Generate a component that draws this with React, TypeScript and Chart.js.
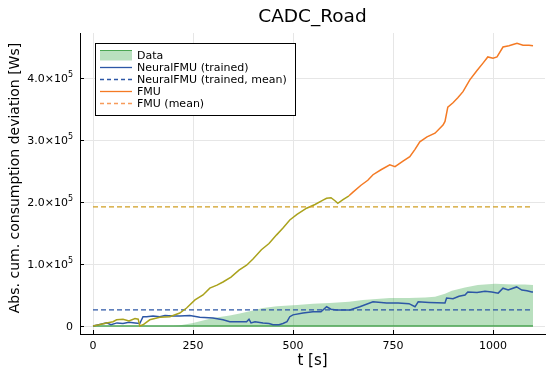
import React, { useEffect, useRef } from "react";
import { Chart, registerables } from "chart.js";

Chart.register(...registerables);

const TITLE = "CADC_Road";
const X_LABEL = "t [s]";
const Y_LABEL = "Abs. cum. consumption deviation [Ws]";
const X_TICKS = [0, 250, 500, 750, 1000];
const Y_TICKS = [0, 100000, 200000, 300000, 400000];
const Y_TICK_MANTISSA = ["0", "1.0×10", "2.0×10", "3.0×10", "4.0×10"];
const Y_TICK_EXP = ["", "5", "5", "5", "5"];
const LEGEND_LABELS = ["Data", "NeuralFMU (trained)", "NeuralFMU (trained, mean)", "FMU", "FMU (mean)"];

const T_END = 1100;

// Data ribbon upper edge
const dataT = [0, 100, 200, 215, 250, 300, 342, 367, 400, 425, 460, 510, 550, 592, 640, 675, 742, 790, 830, 855, 880, 897, 930, 962, 1005, 1050, 1080, 1100];
const dataV = [0, 0, 0, 1000, 5000, 13000, 17000, 20000, 25000, 29000, 32000, 34000, 36000, 37000, 39000, 42000, 45000, 45000, 46000, 47000, 52000, 57000, 62000, 66000, 68000, 67000, 67000, 66000];

// NeuralFMU (trained)
const neuralT = [0, 20, 34, 45, 60, 75, 90, 105, 117, 125, 134, 150, 167, 180, 200, 217, 242, 267, 300, 325, 342, 367, 384, 390, 395, 405, 425, 440, 450, 465, 475, 485, 492, 500, 525, 550, 570, 584, 595, 609, 642, 667, 700, 734, 763, 790, 805, 813, 840, 880, 884, 900, 915, 930, 937, 960, 980, 997, 1013, 1025, 1038, 1059, 1072, 1085, 1097, 1100];
const neuralV = [0, 3000, 5000, 2000, 5000, 4000, 6000, 5000, 4000, 15000, 15000, 16000, 15000, 17000, 16000, 16000, 17000, 14000, 13000, 10000, 7000, 7000, 7000, 11000, 5000, 7000, 5000, 4000, 2000, 2000, 4000, 7000, 15000, 18000, 21000, 23000, 23000, 31000, 27000, 26000, 26000, 31000, 39000, 37000, 37000, 36000, 31000, 39000, 38000, 37000, 45000, 44000, 48000, 50000, 55000, 54000, 56000, 55000, 53000, 61000, 58000, 63000, 58000, 57000, 55000, 55000];
const NEURAL_MEAN = 26000;

// FMU
const fmuT = [0, 15, 34, 50, 59, 75, 90, 105, 113, 117, 125, 142, 167, 192, 217, 234, 255, 275, 292, 310, 325, 345, 365, 384, 400, 421, 440, 459, 475, 492, 510, 534, 555, 575, 584, 595, 605, 612, 625, 640, 650, 670, 687, 700, 720, 742, 755, 775, 792, 805, 817, 835, 855, 875, 880, 887, 900, 912, 925, 942, 960, 975, 987, 1000, 1010, 1025, 1040, 1050, 1060, 1075, 1090, 1100];
const fmuV = [0, 2000, 5000, 7000, 10000, 11000, 8000, 12000, 11000, 0, 2000, 10000, 14000, 15000, 21000, 29000, 42000, 50000, 61000, 66000, 71000, 79000, 90000, 98000, 108000, 123000, 133000, 147000, 158000, 171000, 180000, 190000, 196000, 203000, 206000, 207000, 202000, 198000, 204000, 210000, 216000, 227000, 235000, 244000, 252000, 260000, 257000, 266000, 273000, 285000, 297000, 305000, 311000, 324000, 330000, 353000, 360000, 368000, 378000, 397000, 412000, 424000, 434000, 432000, 434000, 450000, 452000, 454000, 456000, 453000, 453000, 452000];
const FMU_MEAN = 192000;
const FMU_COLOR_SWITCH_T = 630;

const C_GREEN_FILL = "rgba(62,170,78,0.36)";
const C_GREEN_LINE = "#4aa552";
const C_BLUE = "#2d57a6";
const C_OLIVE = "#aaa21c";
const C_ORANGE = "#f47a24";
const C_GOLD = "#cf9e22";

const FONT = "DejaVu Sans";

const pts = (t: number[], v: number[]) => t.map((x, i) => ({ x, y: v[i] }));

export default function App() {
  const ref = useRef<HTMLCanvasElement | null>(null);

  useEffect(() => {
    if (!ref.current) return;

    const overlay = {
      id: "overlay",
      afterDraw(chart: any) {
        const ctx = chart.ctx as CanvasRenderingContext2D;
        const ca = chart.chartArea;
        const xs = chart.scales.x;
        const ys = chart.scales.y;
        ctx.save();
        // inward ticks
        ctx.strokeStyle = "#000";
        ctx.lineWidth = 1;
        ctx.beginPath();
        X_TICKS.forEach((t) => {
          const px = Math.round(xs.getPixelForValue(t)) + 0.5;
          ctx.moveTo(px, ca.bottom);
          ctx.lineTo(px, ca.bottom - 4);
        });
        Y_TICKS.forEach((v) => {
          const py = Math.round(ys.getPixelForValue(v)) + 0.5;
          ctx.moveTo(ca.left, py);
          ctx.lineTo(ca.left + 4, py);
        });
        ctx.stroke();

        // y tick labels with superscript exponent
        ctx.fillStyle = "#000";
        ctx.textBaseline = "alphabetic";
        Y_TICKS.forEach((v, i) => {
          const py = ys.getPixelForValue(v);
          const right = 73;
          let x = right;
          if (Y_TICK_EXP[i]) {
            ctx.font = `8px '${FONT}'`;
            ctx.textAlign = "right";
            ctx.fillText(Y_TICK_EXP[i], x, py - 1);
            x -= ctx.measureText(Y_TICK_EXP[i]).width;
          }
          ctx.font = `11px '${FONT}'`;
          ctx.textAlign = "right";
          ctx.fillText(Y_TICK_MANTISSA[i], x, py + 4);
        });

        // titles
        ctx.textAlign = "center";
        ctx.textBaseline = "alphabetic";
        ctx.font = `18.5px '${FONT}'`;
        ctx.fillText(TITLE, (ca.left + ca.right) / 2, 22);
        ctx.font = `15px '${FONT}'`;
        ctx.fillText(X_LABEL, (ca.left + ca.right) / 2, 365);
        ctx.save();
        ctx.translate(19, 178);
        ctx.rotate(-Math.PI / 2);
        ctx.font = `14px '${FONT}'`;
        ctx.fillText(Y_LABEL, 0, 0);
        ctx.restore();

        // legend
        const bx = 95.5, by = 43.5, bw = 200, bh = 72;
        ctx.fillStyle = "#fff";
        ctx.fillRect(bx, by, bw, bh);
        ctx.strokeStyle = "#000";
        ctx.lineWidth = 1;
        ctx.strokeRect(bx, by, bw, bh);
        const rows = [55.5, 67.5, 79.5, 91.5, 103.5];
        const sx0 = 100, sx1 = 132;
        ctx.font = `11px '${FONT}'`;
        ctx.textAlign = "left";
        ctx.textBaseline = "middle";
        rows.forEach((ry, i) => {
          if (i === 0) {
            ctx.fillStyle = C_GREEN_FILL;
            ctx.fillRect(sx0, ry - 5, sx1 - sx0, 10);
            ctx.strokeStyle = C_GREEN_LINE;
            ctx.lineWidth = 1;
            ctx.beginPath();
            ctx.moveTo(sx0, ry - 5);
            ctx.lineTo(sx1, ry - 5);
            ctx.stroke();
          } else {
            const col = i <= 2 ? C_BLUE : C_ORANGE;
            ctx.strokeStyle = col;
            ctx.lineWidth = 1.3;
            ctx.setLineDash(i === 2 || i === 4 ? [4, 3] : []);
            ctx.globalAlpha = i === 4 ? 0.75 : 1;
            ctx.beginPath();
            ctx.moveTo(sx0, ry);
            ctx.lineTo(sx1, ry);
            ctx.stroke();
            ctx.setLineDash([]);
            ctx.globalAlpha = 1;
          }
          ctx.fillStyle = "#000";
          ctx.fillText(LEGEND_LABELS[i], 137, ry + 0.5);
        });
        ctx.restore();
      },
    };

    const chart = new Chart(ref.current, {
      type: "line",
      data: {
        datasets: [
          {
            label: LEGEND_LABELS[4],
            data: [{ x: 0, y: FMU_MEAN }, { x: T_END, y: FMU_MEAN }],
            borderColor: C_GOLD,
            borderWidth: 1.3,
            borderDash: [5, 3],
            pointRadius: 0,
            fill: false,
            order: 1,
          },
          {
            label: LEGEND_LABELS[3],
            data: pts(fmuT, fmuV),
            borderColor: C_ORANGE,
            borderWidth: 1.5,
            pointRadius: 0,
            fill: false,
            segment: {
              borderColor: (c: any) => (c.p0.parsed.x < FMU_COLOR_SWITCH_T ? C_OLIVE : C_ORANGE),
            },
            order: 2,
          },
          {
            label: LEGEND_LABELS[2],
            data: [{ x: 0, y: NEURAL_MEAN }, { x: T_END, y: NEURAL_MEAN }],
            borderColor: C_BLUE,
            borderWidth: 1.3,
            borderDash: [5, 3],
            pointRadius: 0,
            fill: false,
            order: 3,
          },
          {
            label: LEGEND_LABELS[1],
            data: pts(neuralT, neuralV),
            borderColor: C_BLUE,
            borderWidth: 1.5,
            pointRadius: 0,
            fill: false,
            order: 4,
          },
          {
            label: "Data line",
            data: [{ x: 0, y: 0 }, { x: T_END, y: 0 }],
            borderColor: C_GREEN_LINE,
            borderWidth: 1.5,
            pointRadius: 0,
            fill: false,
            order: 5,
          },
          {
            label: LEGEND_LABELS[0],
            data: pts(dataT, dataV),
            borderColor: "rgba(0,0,0,0)",
            borderWidth: 0,
            backgroundColor: C_GREEN_FILL,
            pointRadius: 0,
            fill: "origin",
            order: 6,
          },
        ],
      },
      options: {
        animation: false,
        responsive: false,
        events: [],
        layout: { padding: { top: 33, right: 5, left: 0, bottom: 0 } },
        plugins: {
          legend: { display: false },
          tooltip: { enabled: false },
          title: { display: false },
        },
        scales: {
          x: {
            type: "linear",
            min: -32.5,
            max: 1130,
            afterBuildTicks: (s: any) => {
              s.ticks = X_TICKS.map((v) => ({ value: v }));
            },
            afterFit: (s: any) => {
              s.height = 42;
            },
            grid: { color: "#e6e6e6", drawTicks: false, lineWidth: 1 },
            border: { display: true, color: "#000", width: 1 },
            ticks: {
              padding: 6,
              color: "#000",
              font: { family: FONT, size: 11 },
              maxRotation: 0,
              callback: (v: any) => String(v),
            },
          },
          y: {
            type: "linear",
            min: -12900,
            max: 472600,
            afterBuildTicks: (s: any) => {
              s.ticks = Y_TICKS.map((v) => ({ value: v }));
            },
            afterFit: (s: any) => {
              s.width = 80;
            },
            grid: { color: "#e6e6e6", drawTicks: false, lineWidth: 1 },
            border: { display: true, color: "#000", width: 1 },
            ticks: {
              display: false,
            },
          },
        },
      },
      plugins: [overlay],
    } as any);

    return () => chart.destroy();
  }, []);

  return (
    <div style={{ position: "absolute", left: 0, top: 0, width: 550, height: 376, background: "#fff" }}>
      <canvas ref={ref} width={550} height={376} />
    </div>
  );
}
